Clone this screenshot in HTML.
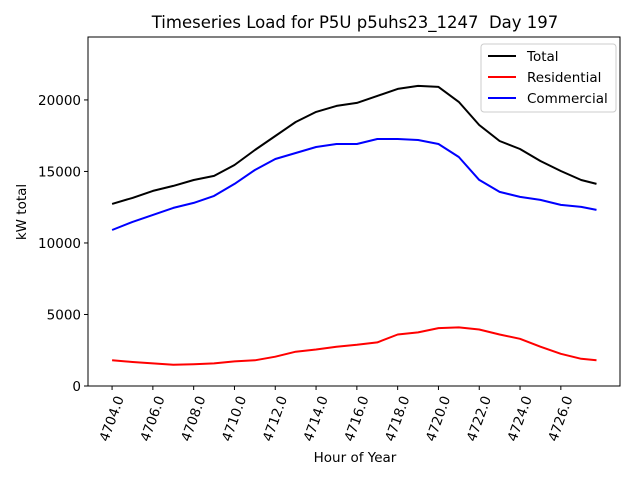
<!DOCTYPE html>
<html><head><meta charset="utf-8"><style>
body{margin:0;background:#fff;}
svg{display:block;font-family:"DejaVu Sans","Liberation Sans",sans-serif;}
</style></head><body>
<svg id="chart" width="640" height="480">
<rect x="0" y="0" width="640" height="480" fill="#fff"/>
<text x="355" y="28" text-anchor="middle" font-size="16.5" style="white-space:pre">Timeseries Load for P5U p5uhs23_1247&#160; Day 197</text>
<g id="plot"></g>
<text x="355" y="462" text-anchor="middle" font-size="13.5">Hour of Year</text>
<text transform="translate(26,212) rotate(-90)" text-anchor="middle" font-size="13.5">kW total</text>
<g>
<rect x="481" y="44" width="135" height="68" rx="3" fill="#fff" stroke="#ccc" stroke-width="1"/>
<g><line x1="488" y1="56" x2="516" y2="56" stroke="#000" stroke-width="2"/><text x="527" y="61" font-size="13.5">Total</text></g>
<g><line x1="488" y1="77" x2="516" y2="77" stroke="#f00" stroke-width="2"/><text x="527" y="82" font-size="13.5">Residential</text></g>
<g><line x1="488" y1="98" x2="516" y2="98" stroke="#00f" stroke-width="2"/><text x="527" y="103" font-size="13.5">Commercial</text></g>
</g>
</svg>
<script>
const hours = [4704,4705,4706,4707,4708,4709,4710,4711,4712,4713,4714,4715,4716,4717,4718,4719,4720,4721,4722,4723,4724,4725,4726,4727,4727.75];
const totalValues = [12730,13150,13640,13990,14400,14690,15450,16500,17480,18460,19160,19580,19790,20280,20770,20980,20910,19860,18250,17130,16570,15730,15030,14400,14130];
const residentialValues = [1800,1680,1580,1480,1520,1580,1720,1800,2050,2400,2550,2750,2880,3050,3600,3750,4050,4100,3950,3600,3300,2750,2250,1900,1800];
const commercialValues = [10910,11470,11960,12450,12800,13290,14130,15100,15870,16290,16710,16920,16920,17270,17270,17200,16920,16010,14410,13570,13220,13010,12660,12520,12310];
const xTicks = [4704,4706,4708,4710,4712,4714,4716,4718,4720,4722,4724,4726];
const xTickLabels = ["4704.0","4706.0","4708.0","4710.0","4712.0","4714.0","4716.0","4718.0","4720.0","4722.0","4724.0","4726.0"];
const yTicks = [0,5000,10000,15000,20000];
const yTickLabels = ["0","5000","10000","15000","20000"];

const L=88,R=620,T=37,B=386;
const xMin=4702.82,xMax=4728.9,yMin=0,yMax=24400;
const xs=v=>L+(v-xMin)/(xMax-xMin)*(R-L);
const ys=v=>B-(v-yMin)/(yMax-yMin)*(B-T);
const NS="http://www.w3.org/2000/svg";
const plot=document.getElementById('plot');
function mk(tag,attrs,parent){const e=document.createElementNS(NS,tag);for(const k in attrs)e.setAttribute(k,attrs[k]);(parent||plot).appendChild(e);return e;}

const series=[[totalValues,'#000','total'],[residentialValues,'#f00','residential'],[commercialValues,'#00f','commercial']];
series.forEach(s=>{
  const d=hours.map((h,i)=>(i?'L':'M')+xs(h).toFixed(1)+','+ys(s[0][i]).toFixed(1)).join(' ');
  const p=mk('path',{d:d,fill:'none',stroke:s[1],'stroke-width':2,'stroke-linejoin':'round'});
  
  
});

const frame=mk('rect',{x:L,y:T,width:R-L,height:B-T,fill:'none',stroke:'#000','stroke-width':1});



xTicks.forEach((t,i)=>{
  const x=xs(t);
  const tk=mk('line',{x1:x,y1:B,x2:x,y2:B+4,stroke:'#000'});
  
  
  const tx=mk('text',{transform:`translate(${x+12},${B+12}) rotate(-70)`,'text-anchor':'end','font-size':13.5});
  tx.textContent=xTickLabels[i];
  
  
});
yTicks.forEach((t,i)=>{
  const y=ys(t);
  const tk=mk('line',{x1:L-4,y1:y,x2:L,y2:y,stroke:'#000'});
  
  
  const tx=mk('text',{x:L-7,y:y+5,'text-anchor':'end','font-size':13.5});
  tx.textContent=yTickLabels[i];
  
  
});
</script>
</body></html>
